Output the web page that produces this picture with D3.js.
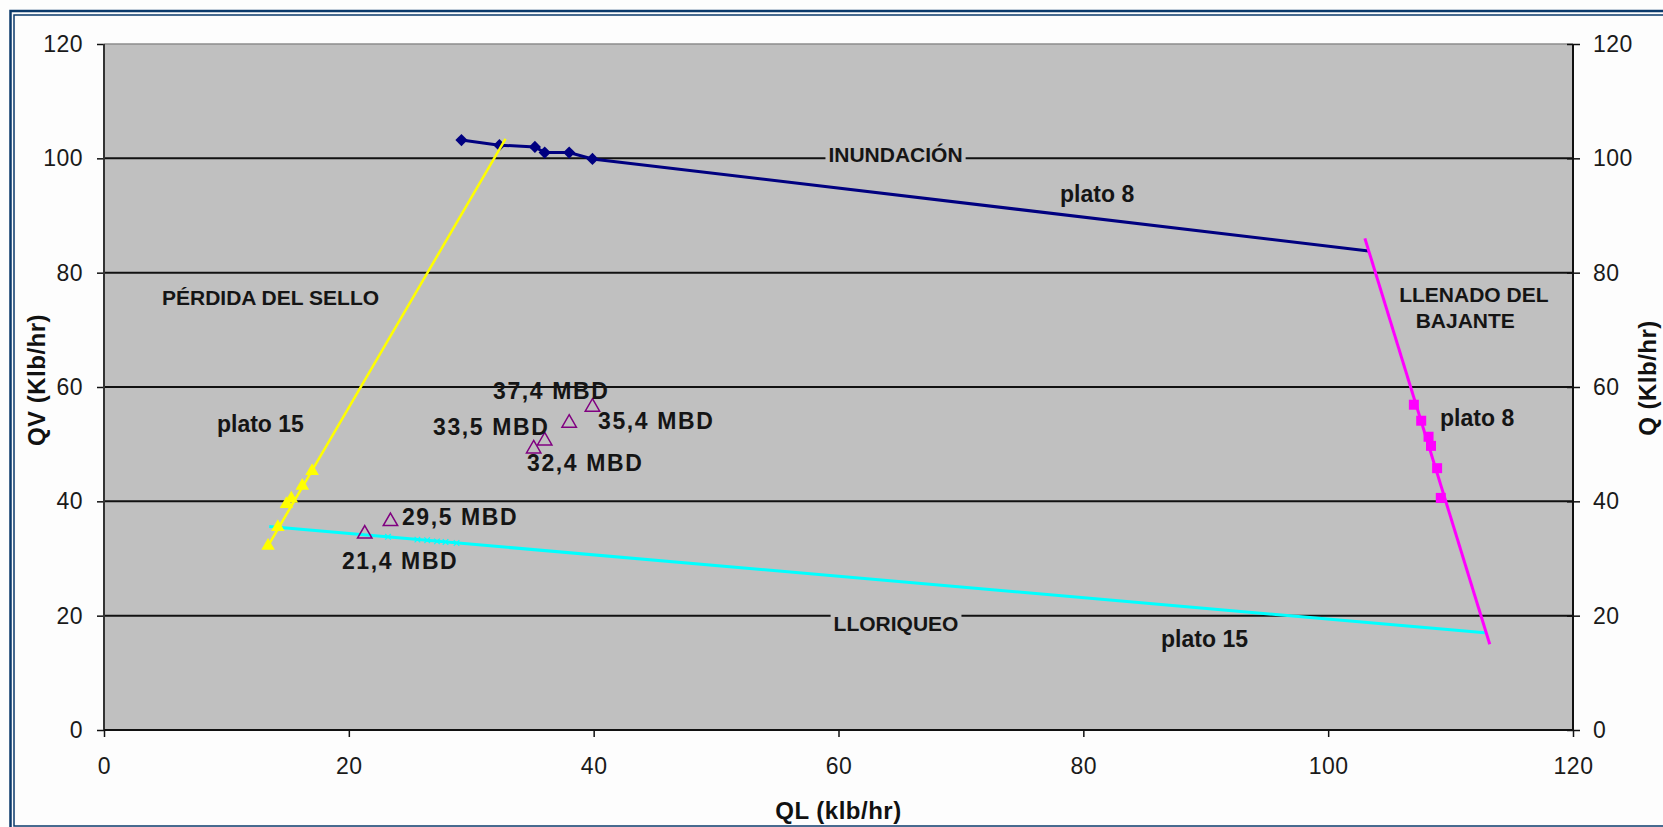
<!DOCTYPE html>
<html>
<head>
<meta charset="utf-8">
<script src="https://cdn.jsdelivr.net/npm/d3@7"></script>
<style>
  body { margin: 0; background: #fdfdfd; overflow: hidden; }
  text { font-family: "Liberation Sans", Arial, sans-serif; }
</style>
</head>
<body>
<div id="chart-area"></div>
<script>
const xTicks = [0, 20, 40, 60, 80, 100, 120];
const yTicks = [0, 20, 40, 60, 80, 100, 120];

// plato 8, inundacion (navy diamonds), line runs on to the downcomer limit
const floodQL = [29.2, 32.3, 35.2, 36.0, 38.0, 39.9];
const floodQV = [103.2, 102.3, 102.0, 101.0, 101.0, 99.9];
const floodEndQL = [103.3];
const floodEndQV = [83.8];

// plato 8, llenado del bajante (magenta squares)
const downQL = [107.0, 107.6, 108.2, 108.4, 108.9, 109.2];
const downQV = [56.9, 54.1, 51.3, 49.7, 45.8, 40.6];
const downLineQL = [103.0, 113.2];
const downLineQV = [86.0, 15.0];

// plato 15, perdida del sello (yellow triangles)
const sealQL = [13.4, 14.2, 14.9, 15.3, 16.2, 17.0];
const sealQV = [32.2, 35.5, 39.5, 40.5, 42.7, 45.3];
const sealLineQL = [13.4, 32.8];
const sealLineQV = [32.2, 103.4];

// plato 15, lloriqueo (cyan)
const weepQL = [23.2, 25.6, 26.4, 27.2, 27.9, 28.8];
const weepQV = [33.8, 33.3, 33.2, 33.0, 32.9, 32.7];
const weepLineQL = [13.5, 112.8];
const weepLineQV = [35.6, 17.0];

// operating points
const opQL = [21.3, 23.4, 35.1, 36.0, 38.0, 39.9];
const opQV = [34.3, 36.5, 49.2, 50.6, 53.7, 56.5];
const opNames = ["21,4 MBD", "29,5 MBD", "32,4 MBD", "33,5 MBD", "35,4 MBD", "37,4 MBD"];

// text notes, anchored in data units (baseline)
const notes = [
  { text: "INUNDACIÓN", x: 64.66, y: 99.33, anchor: "middle", cls: "region", box: true },
  { text: "LLORIQUEO", x: 64.7, y: 17.4, anchor: "middle", cls: "region", box: true },
  { text: "PÉRDIDA DEL SELLO", x: 4.74, y: 74.36, anchor: "start", cls: "region" },
  { text: "LLENADO DEL", x: 111.9, y: 74.8, anchor: "middle", cls: "region" },
  { text: "BAJANTE", x: 111.2, y: 70.25, anchor: "middle", cls: "region" },
  { text: "plato 8", x: 78.1, y: 92.3, anchor: "start", cls: "plato" },
  { text: "plato 8", x: 109.14, y: 53.25, anchor: "start", cls: "plato" },
  { text: "plato 15", x: 9.23, y: 52.08, anchor: "start", cls: "plato" },
  { text: "plato 15", x: 86.35, y: 14.6, anchor: "start", cls: "plato" },
  { text: opNames[0], x: 19.44, y: 28.2, anchor: "start", cls: "mbd" },
  { text: opNames[1], x: 24.34, y: 35.83, anchor: "start", cls: "mbd" },
  { text: opNames[2], x: 34.56, y: 45.28, anchor: "start", cls: "mbd" },
  { text: opNames[3], x: 26.88, y: 51.68, anchor: "start", cls: "mbd" },
  { text: opNames[4], x: 40.36, y: 52.73, anchor: "start", cls: "mbd" },
  { text: opNames[5], x: 31.78, y: 57.9, anchor: "start", cls: "mbd" }
];

const W = 1663, H = 827;
const plot = { left: 104, right: 1573, top: 44, bottom: 730 };
const frameColor = "#0b3a6b";

const svg = d3.select("#chart-area")
  .append("svg")
  .attr("width", W)
  .attr("height", H);

svg.append("rect")
  .attr("width", W)
  .attr("height", H)
  .attr("fill", "#fdfdfd");

// double frame, right side runs off the page
svg.append("rect")
  .attr("x", 10.5).attr("y", 11)
  .attr("width", W).attr("height", 818)
  .attr("fill", "none")
  .attr("stroke", frameColor)
  .attr("stroke-width", 2.5);

svg.append("rect")
  .attr("x", 14).attr("y", 15)
  .attr("width", W).attr("height", 811)
  .attr("fill", "none")
  .attr("stroke", frameColor)
  .attr("stroke-width", 1.5);

const x = d3.scaleLinear()
  .domain([0, 120])
  .range([plot.left, plot.right]);

const y = d3.scaleLinear()
  .domain([0, 120])
  .range([plot.bottom, plot.top]);

svg.append("rect")
  .attr("x", plot.left)
  .attr("y", plot.top)
  .attr("width", plot.right - plot.left)
  .attr("height", plot.bottom - plot.top)
  .attr("fill", "#c0c0c0");

svg.append("line")
  .attr("x1", plot.left).attr("x2", plot.right)
  .attr("y1", plot.top).attr("y2", plot.top)
  .attr("stroke", "#8c8c8c")
  .attr("stroke-width", 1.5);

// gridlines
svg.append("g")
  .selectAll("line")
  .data(yTicks.filter(d => d > 0 && d < 120))
  .enter()
  .append("line")
  .attr("x1", plot.left)
  .attr("x2", plot.right)
  .attr("y1", d => y(d))
  .attr("y2", d => y(d))
  .attr("stroke", "#111")
  .attr("stroke-width", 2);

// axes
function styleAxis(g) {
  g.select(".domain").remove();
  g.selectAll(".tick line").attr("stroke", "#111").attr("stroke-width", 1.5);
  g.selectAll(".tick text")
    .attr("fill", "#1a1a1a")
    .attr("font-size", "23px")
    .attr("letter-spacing", "0.5px")
    .attr("font-family", "'Liberation Sans', Arial, sans-serif");
}

svg.append("g")
  .attr("transform", `translate(${plot.left}, 0)`)
  .call(d3.axisLeft(y).tickValues(yTicks).tickSize(7).tickPadding(14))
  .call(styleAxis);

const yAxisRight = svg.append("g")
  .attr("transform", `translate(${plot.right}, 0)`)
  .call(d3.axisRight(y).tickValues(yTicks).tickSize(7).tickPadding(13))
  .call(styleAxis);
yAxisRight.selectAll(".tick line").attr("x1", -6);

svg.append("g")
  .attr("transform", `translate(0, ${plot.bottom})`)
  .call(d3.axisBottom(x).tickValues(xTicks).tickSize(7).tickPadding(21))
  .call(styleAxis);

// axis lines
svg.append("line")
  .attr("x1", plot.left).attr("x2", plot.left)
  .attr("y1", plot.top).attr("y2", plot.bottom)
  .attr("stroke", "#333").attr("stroke-width", 2);
svg.append("line")
  .attr("x1", plot.right).attr("x2", plot.right)
  .attr("y1", plot.top).attr("y2", plot.bottom)
  .attr("stroke", "#111").attr("stroke-width", 2);
svg.append("line")
  .attr("x1", plot.left).attr("x2", plot.right)
  .attr("y1", plot.bottom).attr("y2", plot.bottom)
  .attr("stroke", "#111").attr("stroke-width", 2);

// axis titles
svg.append("text")
  .attr("x", (plot.left + plot.right) / 2)
  .attr("y", 819)
  .attr("text-anchor", "middle")
  .attr("font-size", "24px")
  .attr("font-weight", "bold")
  .attr("letter-spacing", "0.5px")
  .attr("fill", "#111")
  .text("QL (klb/hr)");

svg.append("text")
  .attr("transform", "translate(45, 380) rotate(-90)")
  .attr("text-anchor", "middle")
  .attr("font-size", "24px")
  .attr("font-weight", "bold")
  .attr("letter-spacing", "0.5px")
  .attr("fill", "#111")
  .text("QV (Klb/hr)");

svg.append("text")
  .attr("transform", "translate(1656, 378) rotate(-90)")
  .attr("text-anchor", "middle")
  .attr("font-size", "24px")
  .attr("font-weight", "bold")
  .attr("letter-spacing", "0.5px")
  .attr("fill", "#111")
  .text("Q (Klb/hr)");

// series
const line = d3.line().x(d => x(d[0])).y(d => y(d[1]));
const pairs = (a, b) => a.map((v, i) => [v, b[i]]);

const g = svg.append("g");

function path(data, color, width) {
  g.append("path")
    .datum(data)
    .attr("d", line)
    .attr("fill", "none")
    .attr("stroke", color)
    .attr("stroke-width", width);
}

function markers(data, type, size, fill, stroke, sw) {
  g.append("g")
    .selectAll("path")
    .data(data)
    .enter()
    .append("path")
    .attr("transform", d => `translate(${x(d[0])}, ${y(d[1])})`)
    .attr("d", d3.symbol().type(type).size(size))
    .attr("fill", fill)
    .attr("stroke", stroke)
    .attr("stroke-width", sw);
}

path(pairs(floodQL.concat(floodEndQL), floodQV.concat(floodEndQV)), "#000080", 3);
markers(pairs(floodQL, floodQV), d3.symbolDiamond2, 95, "#000080", "none", 0);

path(pairs(weepLineQL, weepLineQV), "#00ffff", 3);
markers(pairs(weepQL, weepQV), d3.symbolTimes, 22, "none", "#00ffff", 1.2);

path(pairs(sealLineQL, sealLineQV), "#ffff00", 2.5);
markers(pairs(sealQL, sealQV), d3.symbolTriangle, 80, "#ffff00", "none", 0);

path(pairs(downLineQL, downLineQV), "#ff00ff", 3);
markers(pairs(downQL, downQV), d3.symbolSquare, 100, "#ff00ff", "none", 0);

markers(pairs(opQL, opQV), d3.symbolTriangle, 90, "none", "#800080", 1.5);

// notes
const fontFor = {
  region: { size: "21px", spacing: "0px" },
  plato: { size: "23px", spacing: "0px" },
  mbd: { size: "23px", spacing: "1.6px" }
};

notes.forEach(n => {
  const t = svg.append("text")
    .attr("x", x(n.x))
    .attr("y", y(n.y))
    .attr("text-anchor", n.anchor)
    .attr("font-size", fontFor[n.cls].size)
    .attr("letter-spacing", fontFor[n.cls].spacing)
    .attr("font-weight", "bold")
    .attr("fill", "#151515")
    .text(n.text);
  if (n.box) {
    const b = t.node().getBBox();
    svg.insert("rect", () => t.node())
      .attr("x", b.x - 3)
      .attr("y", b.y)
      .attr("width", b.width + 6)
      .attr("height", b.height)
      .attr("fill", "#c0c0c0");
  }
});
</script>
</body>
</html>
